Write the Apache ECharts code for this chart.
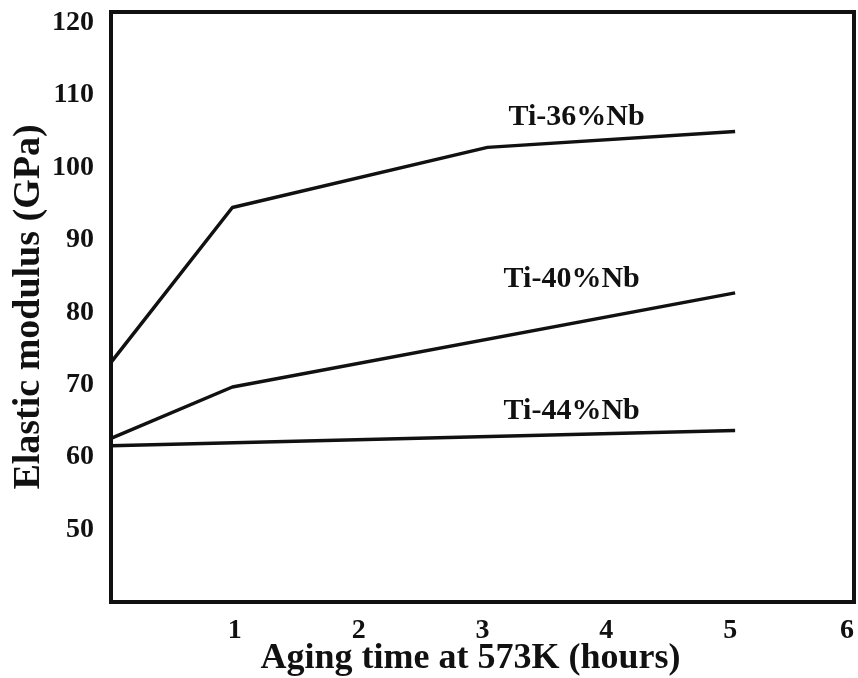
<!DOCTYPE html>
<html>
<head>
<meta charset="utf-8">
<script src="https://cdn.jsdelivr.net/npm/echarts@6/dist/echarts.min.js"></script>
<style>
html,body{margin:0;padding:0;background:#fff;}
#chart{width:858px;height:678px;}
</style>
</head>
<body>
<div id="chart"></div>
<script>
// Data
var seriesNames = ['Ti-36%Nb', 'Ti-40%Nb', 'Ti-44%Nb'];
var ti36 = [[0, 73.1], [0.98, 94.5], [3.04, 102.8], [5.04, 105.0]];
var ti40 = [[0, 62.6], [0.98, 69.7], [5.04, 82.7]];
var ti44 = [[0, 61.6], [5.04, 63.7]];
// label anchors (data units)
var labelAnchors = [[3.76, 107.0], [3.72, 84.6], [3.72, 66.3]];
var xTicks = [1, 2, 3, 4, 5, 6];
var yTicks = [50, 60, 70, 80, 90, 100, 110, 120];
var xTitle = 'Aging time at 573K (hours)';
var yTitle = 'Elastic modulus (GPa)';

var FONT = 'Liberation Serif';
var INK = '#111';
var chart = echarts.init(document.getElementById('chart'), null, {renderer: 'canvas'});
var allData = [ti36, ti40, ti44];
var series = allData.map(function (d, i) {
  return {
    name: seriesNames[i],
    type: 'line',
    data: d,
    symbol: 'none',
    lineStyle: {color: INK, width: 3.5},
    markPoint: {
      symbol: 'circle', symbolSize: 0,
      data: [{coord: labelAnchors[i], value: seriesNames[i]}],
      label: {show: true, position: 'inside', formatter: seriesNames[i],
        fontFamily: FONT, fontWeight: 'bold', fontSize: 30, color: INK}
    },
    animation: false
  };
});
chart.setOption({
  backgroundColor: '#fff',
  animation: false,
  grid: {left: 111, right: 4, top: 12, bottom: 76, outerBoundsMode: 'none', containLabel: false,
    show: true, borderColor: INK, borderWidth: 4, backgroundColor: 'transparent'},
  xAxis: {
    type: 'value', min: 0, max: 6, interval: 1,
    axisLine: {show: false}, axisTick: {show: false}, splitLine: {show: false},
    axisLabel: {
      fontFamily: FONT, fontWeight: 'bold', fontSize: 28, color: INK, margin: 15,
      alignMaxLabel: 'right',
      formatter: function (v) { return xTicks.indexOf(v) >= 0 ? String(v) : ''; }
    },
    name: xTitle, nameLocation: 'middle', nameGap: 39, nameMoveOverlap: false,
    nameTextStyle: {fontFamily: FONT, fontWeight: 'bold', fontSize: 36, color: INK, padding: [0, 24, 0, 0]}
  },
  yAxis: {
    type: 'value', min: 40, max: 121.5, interval: 10,
    axisLine: {show: false}, axisTick: {show: false}, splitLine: {show: false},
    axisLabel: {
      fontFamily: FONT, fontWeight: 'bold', fontSize: 28, color: INK, margin: 17,
      showMaxLabel: false,
      formatter: function (v) { return yTicks.indexOf(v) >= 0 ? String(v) : ''; }
    },
    name: yTitle, nameLocation: 'middle', nameGap: 63, nameRotate: 90, nameMoveOverlap: false,
    nameTextStyle: {fontFamily: FONT, fontWeight: 'bold', fontSize: 38, color: INK}
  },
  series: series
});
</script>
</body>
</html>
